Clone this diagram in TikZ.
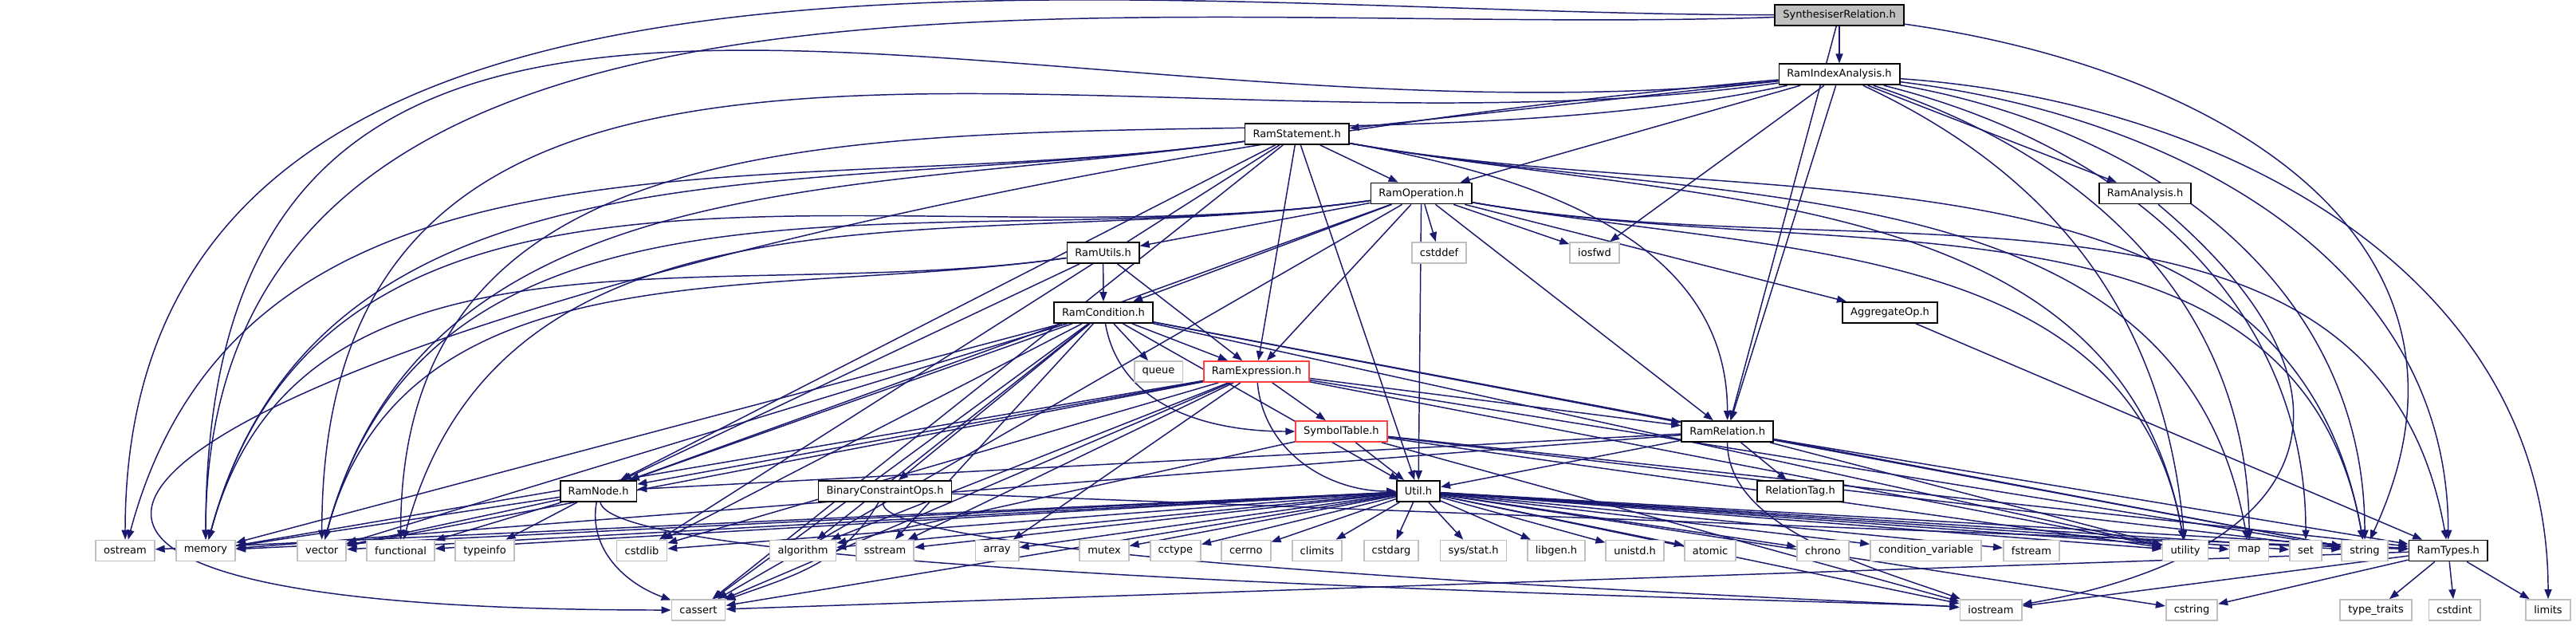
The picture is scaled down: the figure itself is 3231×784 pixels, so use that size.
\documentclass[tikz,border=0pt]{standalone}
\usepackage{fontspec}
\newfontfamily\dejavu{DejaVu Sans}
\usetikzlibrary{arrows.meta,backgrounds}
\definecolor{edgeblue}{HTML}{191970}
\definecolor{sysgray}{HTML}{BFBFBF}
\definecolor{truncred}{HTML}{FF4040}

\begin{document}
\begin{tikzpicture}[
    x=0.01cm, y=-0.01cm,
    base/.style={rectangle, minimum height=0.26cm, inner xsep=0.1cm, inner ysep=0pt, fill=white, line width=0.5pt, font=\dejavu\fontsize{3.7pt}{4pt}\selectfont},
    box/.style={base, draw=black},
    rootbox/.style={base, draw=black, fill=sysgray},
    redbox/.style={base, draw=truncred},
    sysbox/.style={base, draw=sysgray},
    arrow/.style={-{Triangle[length=0.12cm, width=0.09cm]}, draw=edgeblue, line width=0.42pt},
    leftdown/.style={out=188, in=75},
    rightdown/.style={out=-10, in=100}
]
    \useasboundingbox (0,0) rectangle (3231,784);

    % Root
    \node[rootbox] (synth) at (2307,18.7) {SynthesiserRelation.h};

    % Project headers
    \node[box] (idx) at (2307,93.3) {RamIndexAnalysis.h};
    \node[box] (stmt) at (1626.6,168) {RamStatement.h};
    \node[box] (operation) at (1782.7,242.5) {RamOperation.h};
    \node[box] (analysis) at (2690.5,242.5) {RamAnalysis.h};
    \node[box] (utils) at (1383.6,317) {RamUtils.h};
    \node[box] (condition) at (1384,392) {RamCondition.h};
    \node[box] (aggregate) at (2370.5,392) {AggregateOp.h};
    \node[redbox] (expression) at (1576,466) {RamExpression.h};
    \node[redbox] (symtab) at (1682.4,541) {SymbolTable.h};
    \node[box] (relation) at (2166.6,541) {RamRelation.h};
    \node[box] (ramnode) at (750.6,616) {RamNode.h};
    \node[box] (bcops) at (1110,616) {BinaryConstraintOps.h};
    \node[box] (util) at (1779,616) {Util.h};
    \node[box] (reltag) at (2258,616) {RelationTag.h};
    \node[box] (ramtypes) at (3070.7,690.5) {RamTypes.h};

    % System headers
    \node[sysbox] (cstddef) at (1805,317) {cstddef};
    \node[sysbox] (iosfwd) at (2000,317) {iosfwd};
    \node[sysbox] (queue) at (1453,466) {queue};
    \foreach \nm/\txt/\xpos in {ostream/ostream/157, memory/memory/258, vector/vector/403.7,
        functional/functional/502.6, typeinfo/typeinfo/608, cstdlib/cstdlib/805,
        algorithm/algorithm/1007, sstream/sstream/1110, array/array/1250.6, mutex/mutex/1385,
        cctype/cctype/1474.4, cerrno/cerrno/1562.8, climits/climits/1652, cstdarg/cstdarg/1745,
        sysstat/{sys/stat.h}/1848, libgen/libgen.h/1952, unistd/unistd.h/2050.6,
        atomic/atomic/2145, chrono/chrono/2286.5, condvar/condition\_variable/2415.6,
        fstream/fstream/2548, utility/utility/2741, map/map/2821, set/set/2892, string/string/2966}
        \node[sysbox] (\nm) at (\xpos,690.5) {\txt};
    \foreach \nm/\txt/\xpos in {cassert/cassert/876, iostream/iostream/2497, cstring/cstring/2749,
        typetraits/type\_traits/2980, cstdint/cstdint/3078.5, limits/limits/3196}
        \node[sysbox] (\nm) at (\xpos,765) {\txt};

    % Includes
    \begin{scope}[on background layer]
        % SynthesiserRelation.h
        \draw[arrow] (synth) -- (idx);
        \draw[arrow] (synth) -- (relation);
        \draw[arrow] (synth) to[out=180,in=90] (ostream);
        \draw[arrow] (synth) to[out=182,in=90] (memory);
        \draw[arrow] (synth) to[out=-8,in=65,looseness=1.2] (string);

        % RamIndexAnalysis.h
        \foreach \dst in {analysis,operation,stmt,relation,iosfwd}
            \draw[arrow] (idx) -- (\dst);
        \draw[arrow] (idx) to[out=185,in=180,looseness=2.5] (cassert);
        \draw[arrow] (idx) to[out=186,in=90,looseness=1.2] (memory);
        \draw[arrow] (idx) to[out=188,in=90,looseness=1.1] (vector);
        \draw[arrow] (idx) to[out=192,in=90] (functional);
        \draw[arrow] (idx) to[out=-25,in=95] (utility);
        \draw[arrow] (idx) to[out=-18,in=90] (map);
        \draw[arrow] (idx) to[out=-14,in=90] (set);
        \draw[arrow] (idx) to[out=-10,in=90] (string);
        \draw[arrow] (idx) to[out=-7,in=90] (ramtypes);
        \draw[arrow] (idx) to[out=-4,in=90] (limits);

        % RamStatement.h
        \foreach \dst in {operation,expression,util,ramnode,cstdlib,cassert}
            \draw[arrow] (stmt) -- (\dst);
        \foreach \dst in {memory,vector,ostream}
            \draw[arrow] (stmt) to[leftdown] (\dst);
        \foreach \dst in {utility,map,string}
            \draw[arrow] (stmt) to[rightdown] (\dst);
        \draw[arrow] (stmt) to[out=-10,in=90] (relation);

        % RamOperation.h
        \foreach \dst in {aggregate,condition,expression,relation,utils,util,cstddef,iosfwd,ramnode,cassert}
            \draw[arrow] (operation) -- (\dst);
        \foreach \dst in {memory,vector,functional}
            \draw[arrow] (operation) to[leftdown] (\dst);
        \foreach \dst in {string,utility,ramtypes}
            \draw[arrow] (operation) to[rightdown] (\dst);

        % RamUtils.h
        \foreach \dst in {condition,expression,ramnode}
            \draw[arrow] (utils) -- (\dst);
        \foreach \dst in {memory,vector}
            \draw[arrow] (utils) to[leftdown] (\dst);

        % RamCondition.h
        \foreach \dst in {bcops,expression,queue,relation,util,ramnode,algorithm,sstream,cstdlib,
            cassert,memory,vector,string,utility}
            \draw[arrow] (condition) -- (\dst);
        \draw[arrow] (condition) to[out=-80,in=180] (symtab);

        % RamExpression.h
        \foreach \dst in {ramnode,relation,symtab,algorithm,array,cassert,cstdlib,memory,sstream,
            string,utility,vector}
            \draw[arrow] (expression) -- (\dst);
        \draw[arrow] (expression) to[out=-85,in=180] (util);

        % SymbolTable.h
        \foreach \dst in {util,algorithm,string,utility,ramtypes,iostream}
            \draw[arrow] (symtab) -- (\dst);

        % RamRelation.h
        \foreach \dst in {ramnode,reltag,util,memory,ramtypes,string,utility}
            \draw[arrow] (relation) -- (\dst);
        \draw[arrow] (relation) to[out=-90,in=160,looseness=0.8] (iostream);

        % Util.h
        \foreach \dst in {ostream,memory,vector,functional,cstdlib,algorithm,sstream,array,mutex,
            cctype,cerrno,climits,cstdarg,sysstat,libgen,unistd,atomic,chrono,condvar,fstream,
            utility,map,set,string,ramtypes,cassert,iostream,cstring}
            \draw[arrow] (util) -- (\dst);

        % RamNode.h
        \foreach \dst in {memory,vector,functional,typeinfo}
            \draw[arrow] (ramnode) -- (\dst);
        \draw[arrow] (ramnode) to[out=-100,in=160] (cassert);
        \draw[arrow] (ramnode) to[out=-80,in=175,looseness=0.15] (iostream);

        % BinaryConstraintOps.h
        \draw[arrow] (bcops) to[out=-120,in=20] (cassert);
        \draw[arrow] (bcops) to[out=-100,in=175,looseness=0.15] (iostream);
        \draw[arrow] (bcops) -- (ramtypes);

        % AggregateOp.h, RamAnalysis.h
        \draw[arrow] (aggregate) -- (ramtypes);
        \draw[arrow] (analysis) to[out=-40,in=10,looseness=1.8] (iostream);

        % RamTypes.h
        \foreach \dst in {cassert,cstdint,cstring,iostream,limits,typetraits}
            \draw[arrow] (ramtypes) -- (\dst);
    \end{scope}

\end{tikzpicture}
\end{document}
